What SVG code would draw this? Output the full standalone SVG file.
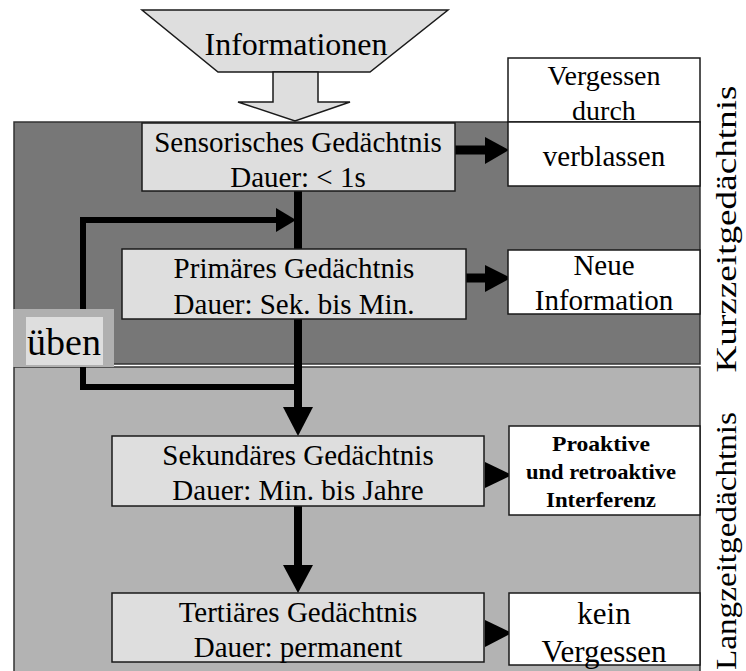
<svg xmlns="http://www.w3.org/2000/svg" width="746" height="671" viewBox="0 0 746 671">
  <style>
    text { font-family: "Liberation Serif", "Times New Roman", serif; fill: #000; text-anchor: middle; }
    .t29 { font-size: 29px; }
    .node { fill: #dedede; stroke: #1a1a1a; stroke-width: 1.5; }
    .out { fill: #ffffff; stroke: #1a1a1a; stroke-width: 1.5; }
    .wire { fill: none; stroke: #000; stroke-linejoin: miter; stroke-linecap: butt; }
    .head { fill: #000; }
    .bold { font-weight: bold; font-size: 21px; }
  </style>

  <rect x="0" y="0" width="746" height="671" fill="#ffffff"/>

  <!-- memory zones -->
  <g id="zone-short">
    <rect x="14" y="122" width="686" height="242" fill="#777777" stroke="#333333" stroke-width="1.5"/>
  </g>
  <g id="zone-long">
    <rect x="14" y="367" width="686" height="310" fill="#b3b3b3" stroke="#333333" stroke-width="1.5"/>
  </g>

  <!-- incoming information funnel -->
  <g id="informationen">
    <polygon points="142,10 448,10 370,72 218,72" fill="#dedede" stroke="#1a1a1a" stroke-width="1.5"/>
    <polygon points="273,72 318,72 318,102 350,102 295,121 238,102 273,102" fill="#dedede" stroke="#1a1a1a" stroke-width="1.5"/>
    <text x="296" y="55" style="font-size:32px">Informationen</text>
  </g>

  <!-- connectors -->
  <g id="connectors">
    <line class="wire" x1="298" y1="191" x2="298" y2="409" stroke-width="8"/>
    <polygon class="head" points="283,407 313,407 298,436"/>
    <line class="wire" x1="298" y1="506" x2="298" y2="567" stroke-width="8"/>
    <polygon class="head" points="283,565 313,565 298,593"/>
    <path class="wire" d="M298,387 H83 V220 H278" stroke-width="6"/>
    <polygon class="head" points="276,208 276,232 296,220"/>
    <line class="wire" x1="455" y1="150" x2="487" y2="150" stroke-width="9"/>
    <polygon class="head" points="485,137 485,164 509,150"/>
    <line class="wire" x1="466" y1="278" x2="487" y2="278" stroke-width="9"/>
    <polygon class="head" points="485,265 485,292 511,278"/>
    <polygon class="head" points="485,462 485,488 512,475"/>
    <polygon class="head" points="485,620 485,647 512,633"/>
  </g>

  <!-- memory stages -->
  <g id="sensorisch">
    <rect class="node" x="142" y="123" width="313" height="68"/>
    <text class="t29" x="298" y="152">Sensorisches Gedächtnis</text>
    <text class="t29" x="298" y="187">Dauer: &lt; 1s</text>
  </g>
  <g id="primaer">
    <rect class="node" x="122" y="249" width="344" height="70"/>
    <text class="t29" x="294" y="278">Primäres Gedächtnis</text>
    <text class="t29" x="294" y="314">Dauer: Sek. bis Min.</text>
  </g>
  <g id="sekundaer">
    <rect class="node" x="112" y="436" width="372" height="70"/>
    <text class="t29" x="298" y="465">Sekundäres Gedächtnis</text>
    <text class="t29" x="298" y="500">Dauer: Min. bis Jahre</text>
  </g>
  <g id="tertiaer">
    <rect class="node" x="112" y="593" width="372" height="69"/>
    <text class="t29" x="298" y="622">Tertiäres Gedächtnis</text>
    <text class="t29" x="298" y="657">Dauer: permanent</text>
  </g>

  <!-- rehearsal label -->
  <g id="ueben">
    <rect x="13" y="309" width="101" height="58" fill="#b0b0b0"/>
    <rect x="26" y="317" width="77" height="48" fill="#dedede"/>
    <text x="64" y="355" style="font-size:38px">üben</text>
  </g>

  <!-- forgetting outcomes -->
  <g id="vergessen">
    <rect class="out" x="508" y="58" width="192" height="64"/>
    <text class="t29" x="604" y="85" style="font-size:28px">Vergessen</text>
    <text class="t29" x="604" y="120" style="font-size:28px">durch</text>
  </g>
  <g id="verblassen">
    <rect class="out" x="508" y="122" width="192" height="64"/>
    <text class="t29" x="604" y="166">verblassen</text>
  </g>
  <g id="neue-information">
    <rect class="out" x="508" y="250" width="192" height="64"/>
    <text class="t29" x="604" y="275">Neue</text>
    <text class="t29" x="604" y="310">Information</text>
  </g>
  <g id="interferenz">
    <rect class="out" x="509" y="426" width="191" height="89"/>
    <text class="bold" x="601" y="451" textLength="98" lengthAdjust="spacingAndGlyphs">Proaktive</text>
    <text class="bold" x="601" y="479" textLength="150" lengthAdjust="spacingAndGlyphs">und retroaktive</text>
    <text class="bold" x="601" y="507" textLength="110" lengthAdjust="spacingAndGlyphs">Interferenz</text>
  </g>
  <g id="kein-vergessen">
    <rect class="out" x="509" y="593" width="191" height="72"/>
    <text x="604" y="624" style="font-size:31px">kein</text>
    <text x="604" y="662" style="font-size:31px">Vergessen</text>
  </g>

  <!-- zone captions -->
  <g id="label-kurzzeit">
    <text transform="translate(736,229) rotate(-90)" style="font-size:29px" textLength="287" lengthAdjust="spacingAndGlyphs">Kurzzeitgedächtnis</text>
  </g>
  <g id="label-langzeit">
    <text transform="translate(736,541) rotate(-90)" style="font-size:29px" textLength="258" lengthAdjust="spacingAndGlyphs">Langzeitgedächtnis</text>
  </g>
</svg>
